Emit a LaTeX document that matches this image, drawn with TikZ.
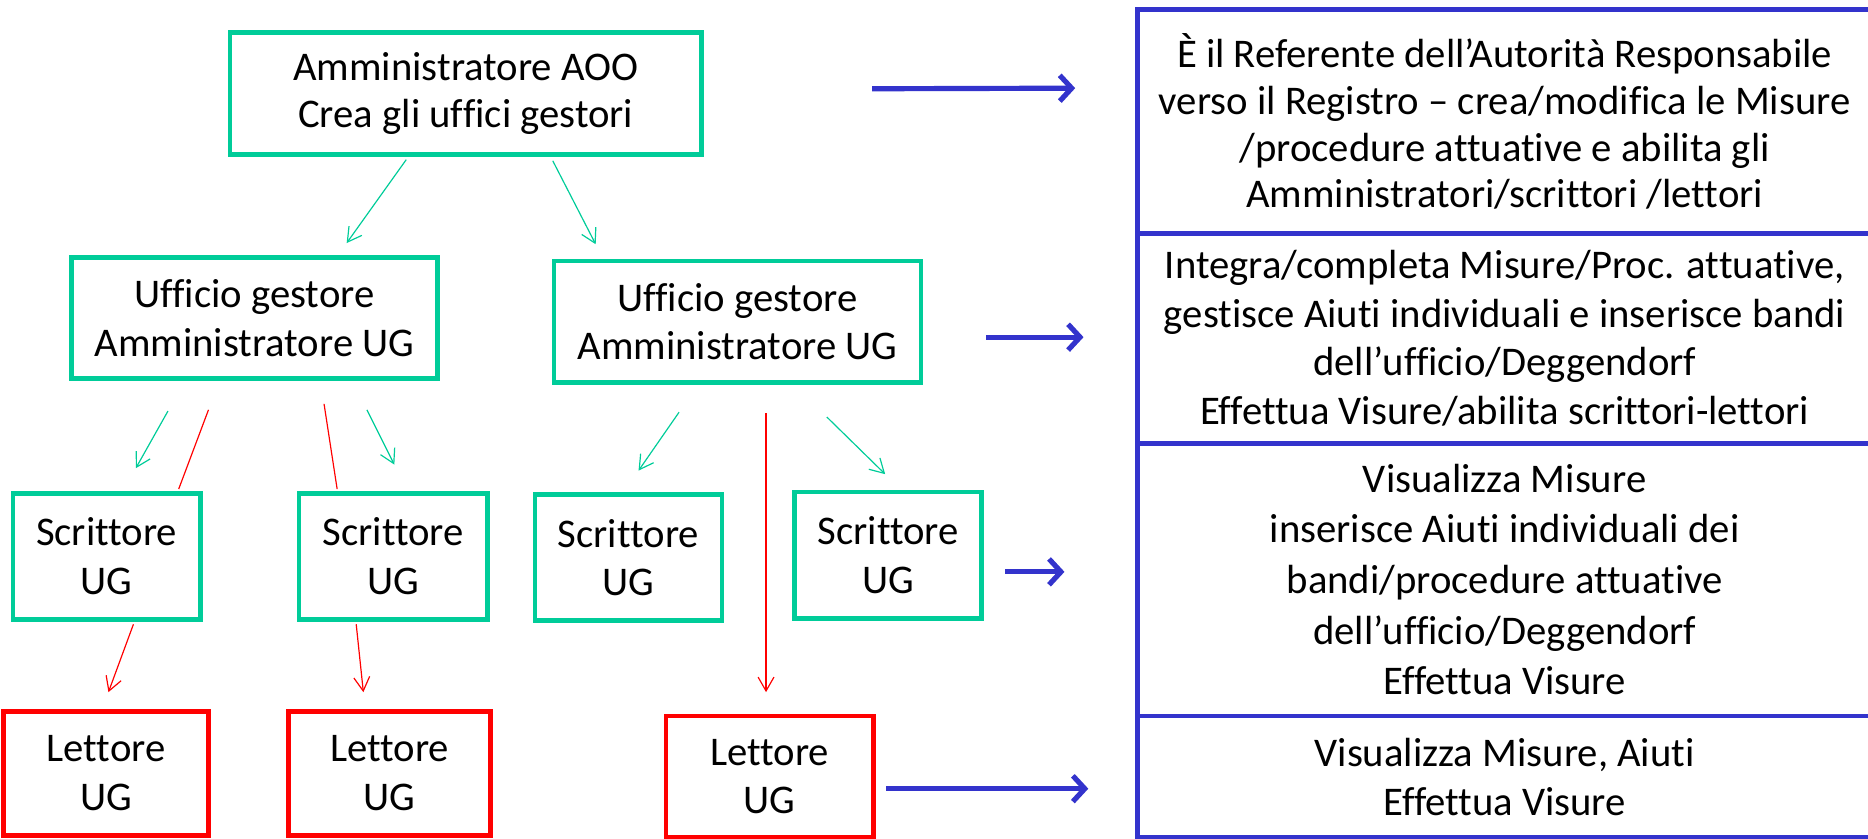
\documentclass[tikz,border=0pt]{standalone}
\usepackage{fontspec}
\setmainfont{Carlito}[Ligatures=NoCommon]
\usetikzlibrary{arrows.meta, positioning, calc}
\definecolor{ugreen}{RGB}{0,204,153}
\definecolor{ured}{RGB}{255,0,0}
\definecolor{ublue}{RGB}{51,51,204}

\begin{document}
\begin{tikzpicture}[x=0.6pt,y=-0.6pt,
    font=\fontsize{20.5}{24.5}\selectfont,
    gbox/.style={draw=ugreen, line width=2.4pt, fill=white, align=center, inner sep=0pt},
    rbox/.style={draw=ured, line width=2.4pt, fill=white, align=center, inner sep=0pt},
    row/.style={draw=ublue, line width=2.4pt, align=center, inner sep=0pt, minimum width=370.2pt},
    garr/.style={draw=ugreen, line width=0.6pt, -{Straight Barb[length=7pt,width=8pt]}},
    rarr/.style={draw=ured, line width=0.6pt, -{Straight Barb[length=7pt,width=8pt]}},
    rline/.style={draw=ured, line width=0.6pt},
    barr/.style={draw=ublue, line width=2.6pt, -{Straight Barb[length=6pt,width=13pt]}}]
    \useasboundingbox (0,0) rectangle (1568,704);
    \clip (0,0) rectangle (1568,704);

    % right column
    \node[row, minimum height=112.8pt, font=\fontsize{20.5}{23.6}\selectfont] (r1) at (1263,102) {È il Referente dell’Autorità Responsabile\\verso il Registro – crea/modifica le Misure\\/procedure attuative e abilita gli\\Amministratori/scrittori /lettori};
    \node[row, minimum height=105.6pt] (r2) at (1263,284) {Integra/completa Misure/Proc. attuative,\\gestisce Aiuti individuali e inserisce bandi\\dell’ufficio/Deggendorf\\Effettua Visure/abilita scrittori-lettori};
    \node[row, minimum height=137.4pt, font=\fontsize{20.5}{25.5}\selectfont] (r3) at (1263,486.5) {Visualizza Misure\\inserisce Aiuti individuali dei\\bandi/procedure attuative\\dell’ufficio/Deggendorf\\Effettua Visure};
    \node[row, minimum height=61.2pt] (r4) at (1263,652) {Visualizza Misure, Aiuti\\Effettua Visure};

    % tree
    \node[gbox, minimum width=237.6pt, minimum height=61.8pt, font=\fontsize{20.5}{23.4}\selectfont] (aoo) at (391,78.5) {Amministratore AOO\\Crea gli uffici gestori};
    \node[gbox, minimum width=184.2pt, minimum height=61.2pt] (ug1) at (213.5,267) {Ufficio gestore\\Amministratore UG};
    \node[gbox, minimum width=184.8pt, minimum height=61.2pt] (ug2) at (619,270) {Ufficio gestore\\Amministratore UG};
    \node[gbox, minimum width=94.2pt, minimum height=63.6pt] (scr1) at (89.5,467) {Scrittore\\UG};
    \node[gbox, minimum width=94.8pt, minimum height=63.6pt] (scr2) at (330,467) {Scrittore\\UG};
    \node[gbox, minimum width=94.2pt, minimum height=63.6pt] (scr3) at (527.5,468) {Scrittore\\UG};
    \node[gbox, minimum width=94.2pt, minimum height=63.6pt] (scr4) at (745.5,466) {Scrittore\\UG};
    \node[rbox, minimum width=103.2pt, minimum height=62.4pt] (let1) at (89,649) {Lettore\\UG};
    \node[rbox, minimum width=102pt, minimum height=62.4pt] (let2) at (327,649) {Lettore\\UG};
    \node[rbox, minimum width=104.4pt, minimum height=61.2pt] (let3) at (646,652) {Lettore\\UG};

    \draw[garr] ($(aoo.south)+(-50,2)$) -- ($(ug1.north)+(77.5,-10)$);
    \draw[garr] ($(aoo.south)+(73,3)$) -- ($(ug2.north)+(-119,-12)$);
    \draw[garr] ($(ug1.south)+(-72.5,25)$) -- ($(scr1.north)+(24.5,-19)$);
    \draw[garr] ($(ug1.south)+(94.5,24)$) -- ($(scr2.north)+(1,-22)$);
    \draw[garr] ($(ug2.south)+(-49,23)$) -- ($(scr3.north)+(8.5,-18)$);
    \draw[garr] ($(ug2.south)+(75,27)$) -- ($(scr4.north)+(-2.5,-13)$);
    \draw[rline] ($(ug1.south)+(-38.5,24)$) -- ($(scr1.north)+(60.5,-1.5)$);
    \draw[rline] ($(ug1.south)+(58.5,19)$) -- ($(scr2.north)+(-47,-1.5)$);
    \draw[rarr] ($(scr1.south)+(22.5,2)$) -- ($(let1.north)+(2,-14)$);
    \draw[rarr] ($(scr2.south)+(-31,2)$) -- ($(let2.north)+(-22,-14)$);
    \draw[rarr] ($(ug2.south)+(24,24)$) -- ($(let3.north)+(-3,-18)$);

    \draw[barr] ($(aoo.east)+(141,-4)$) -- ($(r1.west)+(-50,-28)$);
    \draw[barr] ($(ug2.east)+(53,13)$) -- ($(r2.west)+(-43,-1)$);
    \draw[barr] ($(scr4.east)+(18,14)$) -- ($(r3.west)+(-59,-6.5)$);
    \draw[barr] ($(let3.east)+(9,10)$) -- ($(r4.west)+(-39,10)$);
\end{tikzpicture}
\end{document}
